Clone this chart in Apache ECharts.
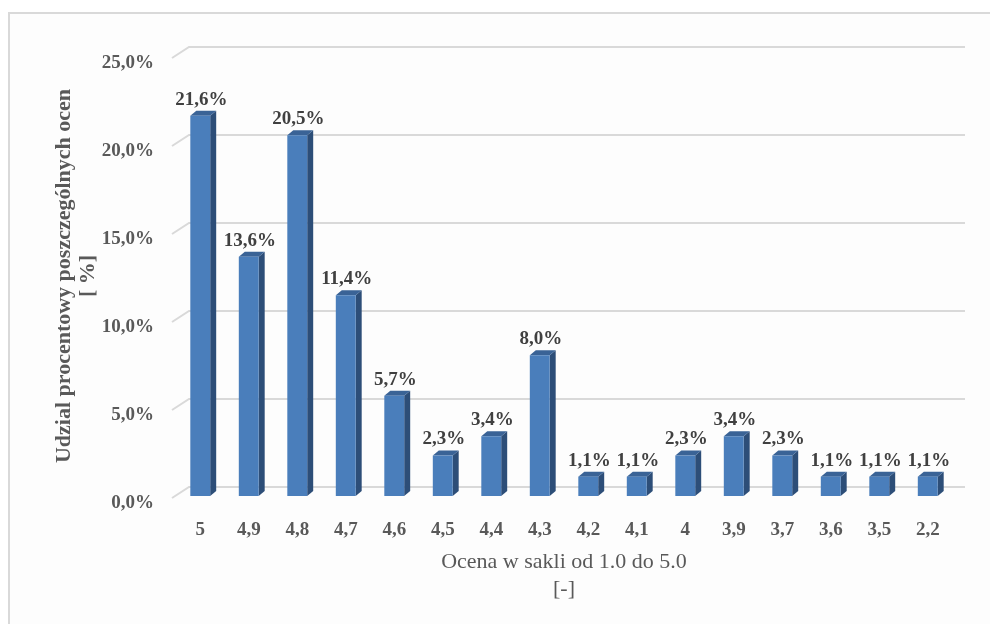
<!DOCTYPE html>
<html>
<head>
<meta charset="utf-8">
<script src="https://cdn.jsdelivr.net/npm/echarts@6/dist/echarts.min.js"></script>
<style>
html,body{margin:0;padding:0;background:#ffffff;overflow:hidden;}
#frame{position:absolute;left:8px;top:12px;width:1000px;height:700px;border:2px solid #d9d9d9;background:#fdfdfd;}
#chart{position:absolute;left:0;top:0;width:990px;height:624px;}
</style>
</head>
<body>
<div id="frame"></div>
<div id="chart"></div>
<script>
const categories = ["5","4,9","4,8","4,7","4,6","4,5","4,4","4,3","4,2","4,1","4","3,9","3,7","3,6","3,5","2,2"];
const shares = [21.6, 13.6, 20.5, 11.4, 5.7, 2.3, 3.4, 8.0, 1.1, 1.1, 2.3, 3.4, 2.3, 1.1, 1.1, 1.1];
const yTicks = [0, 5, 10, 15, 20, 25];

const FONT = '"Liberation Serif", "DejaVu Serif", serif';
const DX = 13, DY = -9;       // back wall depth offset
const BDX = 6, BDY = -5;      // bar depth offset

const chart = echarts.init(document.getElementById('chart'), null, {renderer: 'canvas'});

function fmt(v){ return v.toFixed(1).replace('.', ',') + '%'; }

const option = {
  backgroundColor: 'transparent',
  animation: false,
  grid: {left: 176, right: 38, top: 56, bottom: 128, containLabel: false},
  xAxis: {
    type: 'category',
    data: categories,
    axisLine: {show: false},
    axisTick: {show: false},
    axisLabel: {
      fontFamily: FONT, fontWeight: 'bold', fontSize: 19, color: '#595959', margin: 25
    },
    name: 'Ocena w sakli od 1.0 do 5.0\n[-]',
    nameLocation: 'middle',
    nameGap: 53,
    nameTextStyle: {fontFamily: FONT, fontSize: 22, color: '#595959', lineHeight: 27}
  },
  yAxis: {
    type: 'value',
    min: 0, max: 25, interval: 5,
    axisLine: {show: false},
    axisTick: {show: false},
    splitLine: {show: false},
    axisLabel: {
      fontFamily: FONT, fontWeight: 'bold', fontSize: 19, color: '#595959', margin: 22,
      verticalAlign: 'top', lineHeight: 14,
      formatter: function(v){ return v.toFixed(1).replace('.', ',') + '%'; }
    },
    name: 'Udzial procentowy poszczególnych ocen\n[ %]',
    nameLocation: 'middle',
    nameMoveOverlap: false,
    nameGap: 76,
    nameTextStyle: {fontFamily: FONT, fontWeight: 'bold', fontSize: 22, color: '#595959', lineHeight: 24}
  },
  series: [
    {
      type: 'custom',
      name: 'grid',
      z: 1,
      silent: true,
      encode: {y: 0},
      data: yTicks.map(v => [v]),
      renderItem: function(params, api){
        const cs = params.coordSys;
        const yf = api.coord([0, api.value(0)])[1];
        const x0 = cs.x, x1 = cs.x + cs.width;
        return {
          type: 'polyline',
          shape: {points: [[x0 - 4, yf + 2], [x0 + DX, yf + DY], [x1 + DX, yf + DY]]},
          style: {stroke: '#d9d9d9', lineWidth: 2, fill: null}
        };
      }
    },
    {
      type: 'custom',
      name: 'bars',
      z: 5,
      encode: {x: 0, y: 1},
      data: shares.map((v, i) => [i, v]),
      renderItem: function(params, api){
        const idx = api.value(0), val = api.value(1);
        const base = api.coord([idx, 0]);
        const top = api.coord([idx, val]);
        const w = api.size([1, 0])[0] * 0.41;
        const xl = base[0] - w / 2, xr = base[0] + w / 2;
        const yb = base[1], yt = top[1];
        return {
          type: 'group',
          children: [
            {type: 'polygon', shape: {points: [[xr, yb], [xr + BDX, yb + BDY], [xr + BDX, yt + BDY], [xr, yt]]},
             style: {fill: '#2d4e78'}},
            {type: 'polygon', shape: {points: [[xl, yt], [xl + BDX, yt + BDY], [xr + BDX, yt + BDY], [xr, yt]]},
             style: {fill: '#3a6396'}},
            {type: 'rect', shape: {x: xl, y: yt, width: w, height: yb - yt},
             style: {fill: '#4a7ebb'}},
            {type: 'text', x: base[0] + 1, y: yt - 16,
             style: {text: fmt(val), fontFamily: FONT, fontWeight: 'bold', fontSize: 19, fill: '#404040',
                     align: 'center', verticalAlign: 'middle'}}
          ]
        };
      }
    }
  ]
};
chart.setOption(option);
</script>
</body>
</html>
